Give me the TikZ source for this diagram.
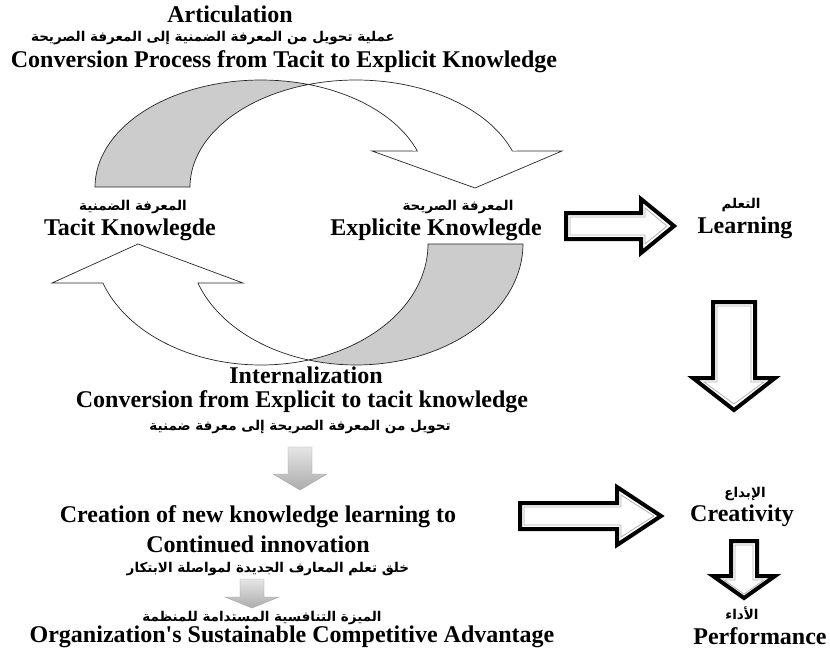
\documentclass[tikz,border=0pt]{standalone}
\usepackage{fontspec}
\setmainfont{Liberation Serif}
\newfontfamily\arabicfont[Script=Arabic]{DejaVu Sans}
\TeXXeTstate=1
\tikzset{
  entext/.style={font=\bfseries\fontsize{24}{28}\selectfont, inner sep=0pt},
  artext/.style={font=\arabicfont\bfseries\fontsize{13.5}{16}\selectfont, inner sep=0pt},
  backface/.style={draw=black!85, line width=0.7pt, fill=gray!40},
  frontface/.style={draw=black!85, line width=0.7pt, fill=white},
  boldarrow/.style={draw=black, line width=4pt, fill=white, line join=miter},
  innerrim/.style={draw=gray!60, line width=0.8pt, line join=miter},
  greyarrow/.style={draw=gray!70, line width=0.4pt, top color=gray!20, bottom color=gray!65}
}

\begin{document}
\begin{tikzpicture}[x=1pt,y=-1pt]
        \useasboundingbox (0,0) rectangle (830,648);
        \fill[white] (0,0) rectangle (830,648);

        % Top labels
        \node[entext] (articulation) at (230,14) {Articulation};
        \node[artext] (articular) at (213,38) {\beginR عملية تحويل من المعرفة الضمنية إلى المعرفة الصريحة\endR};
        \node[entext] (tacitconv) at (284,62) {Conversion Process from Tacit to Explicit Knowledge};

        % Upper curved arrow (tacit -> explicit)
        \draw[backface] plot[domain=180:73.4, samples=40] ({261+166*cos(\x)},{187-107*sin(\x)})
            -- plot[domain=106.6:180, samples=40] ({356+166*cos(\x)},{187-107*sin(\x)}) -- cycle;
        \draw[frontface] plot[domain=106.6:19.6, samples=50] ({356+166*cos(\x)},{187-107*sin(\x)})
            -- (562,151) -- (475,188) -- (372,151)
            -- plot[domain=19.6:73.4, samples=40] ({261+166*cos(\x)},{187-107*sin(\x)}) -- cycle;

        % Knowledge types
        \node[artext] (tacitar) at (133,207) {\beginR المعرفة الضمنية\endR};
        \node[entext] (tacit) at (130,230) {Tacit Knowlegde};
        \node[artext] (explicitar) at (458,207) {\beginR المعرفة الصريحة\endR};
        \node[entext] (explicit) at (436,230) {Explicite Knowlegde};

        % Lower curved arrow (explicit -> tacit)
        \draw[backface] plot[domain=0:106.7, samples=40] ({356+167*cos(\x)},{244+121*sin(\x)})
            -- plot[domain=73.7:0, samples=40] ({261+167*cos(\x)},{244+121*sin(\x)}) -- cycle;
        \draw[frontface] plot[domain=73.7:161.2, samples=50] ({261+167*cos(\x)},{244+121*sin(\x)})
            -- (52,283) -- (138,244) -- (243,283)
            -- plot[domain=161.2:106.7, samples=40] ({356+167*cos(\x)},{244+121*sin(\x)}) -- cycle;

        % Internalization
        \node[entext] (internal) at (306,375) {Internalization};
        \node[entext] (internconv) at (302,402) {Conversion from Explicit to tacit knowledge};
        \node[artext] (internar) at (300,427) {\beginR تحويل من المعرفة الصريحة إلى معرفة ضمنية\endR};

        % Grey arrows down the middle
        \draw[greyarrow] (288,447) -- (312,447) -- (312,474) -- (327,474) -- (300,490)
            -- (273,474) -- (288,474) -- cycle;
        \node[entext] (creation) at (258,517) {Creation of new knowledge learning to};
        \node[entext] (innovation) at (258,544) {Continued innovation};
        \node[artext] (creationar) at (268,569) {\beginR خلق تعلم المعارف الجديدة لمواصلة الابتكار\endR};
        \draw[greyarrow] (240,579) -- (264,579) -- (264,597) -- (279,597) -- (252,608)
            -- (225,597) -- (240,597) -- cycle;
        \node[artext] (advantagear) at (262,618) {\beginR الميزة التنافسية المستدامة للمنظمة\endR};
        \node[entext] (advantage) at (292,637) {Organization\textquotesingle s Sustainable Competitive Advantage};

        % Right column
        \node[artext] (learnar) at (741,205) {\beginR التعلم\endR};
        \node[entext] (learn) at (745,228) {Learning};
        \node[artext] (creativar) at (745,494) {\beginR الإبداع\endR};
        \node[entext] (creativity) at (742,516) {Creativity};
        \node[artext] (perfar) at (742,613) {\beginR الأداء\endR};
        \node[entext] (perf) at (760,636) {Performance};

        % Bold outlined arrows
        \draw[boldarrow] (566,213) -- (641,213) -- (641,199) -- (674,226) -- (641,253)
            -- (641,239) -- (566,239) -- cycle;
        \draw[innerrim] (570,217) -- (645,217) -- (645,208) -- (667,226) -- (645,244)
            -- (645,235) -- (570,235) -- cycle;
        \draw[boldarrow] (713,302) -- (755,302) -- (755,378) -- (775,378) -- (734,410)
            -- (693,378) -- (713,378) -- cycle;
        \draw[innerrim] (717,306) -- (751,306) -- (751,382) -- (764,382) -- (734,404)
            -- (704,382) -- (717,382) -- cycle;
        \draw[boldarrow] (520,503) -- (617,503) -- (617,487) -- (661,516) -- (617,545)
            -- (617,529) -- (520,529) -- cycle;
        \draw[innerrim] (524,507) -- (621,507) -- (621,495) -- (654,516) -- (621,537)
            -- (621,525) -- (524,525) -- cycle;
        \draw[boldarrow] (731,541) -- (757,541) -- (757,576) -- (775,576) -- (744,598)
            -- (713,576) -- (731,576) -- cycle;
        \draw[innerrim] (735,545) -- (753,545) -- (753,580) -- (764,580) -- (744,594)
            -- (724,580) -- (735,580) -- cycle;
\end{tikzpicture}
\end{document}
